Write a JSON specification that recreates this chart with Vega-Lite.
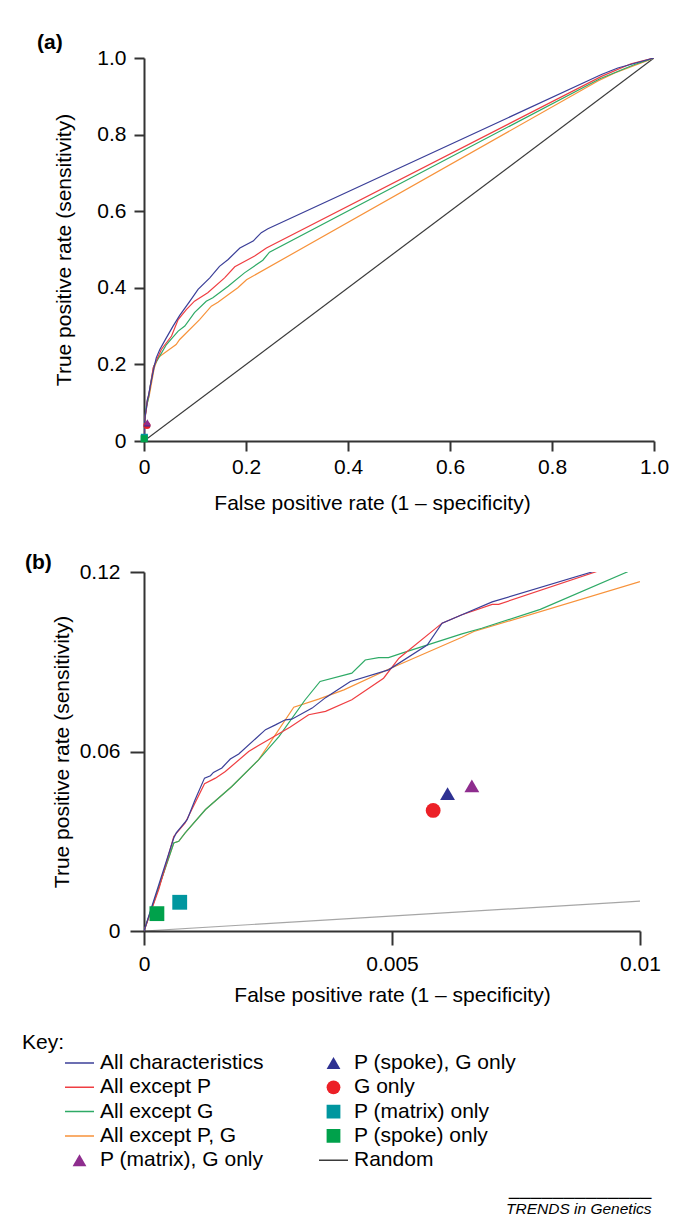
{
  "$schema": "https://vega.github.io/schema/vega-lite/v6.json",
  "autosize": {"type": "pad"},
  "padding": {"left": 22, "top": 32, "right": 5, "bottom": 5},
  "background": "white",
  "bounds": "flush",
  "spacing": 131,
  "title": {
    "text": ["─────────────", "TRENDS in Genetics"],
    "orient": "bottom", "anchor": "end", "font": "Liberation Sans", "fontSize": 15.5,
    "fontStyle": "italic", "fontWeight": "normal", "color": "#000000", "lineHeight": 11, "offset": 20, "dx": -17
  },
  "datasets": {
    "curves": [
      {"series": "Random", "x": 0, "y": 0}, {"series": "Random", "x": 1, "y": 1},
      {"series": "All except P, G", "x": 0, "y": 0},
      {"series": "All except P, G", "x": 0.0006, "y": 0.0294},
      {"series": "All except P, G", "x": 0.0007, "y": 0.030},
      {"series": "All except P, G", "x": 0.00083, "y": 0.0328},
      {"series": "All except P, G", "x": 0.00124, "y": 0.0406},
      {"series": "All except P, G", "x": 0.00177, "y": 0.0483},
      {"series": "All except P, G", "x": 0.00231, "y": 0.0572},
      {"series": "All except P, G", "x": 0.00302, "y": 0.0748},
      {"series": "All except P, G", "x": 0.00352, "y": 0.0775},
      {"series": "All except P, G", "x": 0.00403, "y": 0.0806},
      {"series": "All except P, G", "x": 0.00493, "y": 0.0875},
      {"series": "All except P, G", "x": 0.00641, "y": 0.0982},
      {"series": "All except P, G", "x": 0.00665, "y": 0.1001},
      {"series": "All except P, G", "x": 0.01, "y": 0.1168},
      {"series": "All except P, G", "x": 0.014, "y": 0.145},
      {"series": "All except P, G", "x": 0.02, "y": 0.19},
      {"series": "All except P, G", "x": 0.027, "y": 0.217},
      {"series": "All except P, G", "x": 0.063, "y": 0.252},
      {"series": "All except P, G", "x": 0.07, "y": 0.265},
      {"series": "All except P, G", "x": 0.109, "y": 0.317},
      {"series": "All except P, G", "x": 0.132, "y": 0.352},
      {"series": "All except P, G", "x": 0.145, "y": 0.362},
      {"series": "All except P, G", "x": 0.165, "y": 0.382},
      {"series": "All except P, G", "x": 0.184, "y": 0.40},
      {"series": "All except P, G", "x": 0.201, "y": 0.421},
      {"series": "All except P, G", "x": 0.89, "y": 0.94},
      {"series": "All except P, G", "x": 0.923, "y": 0.961},
      {"series": "All except P, G", "x": 1, "y": 1},
      {"series": "All except G", "x": 0, "y": 0},
      {"series": "All except G", "x": 0.0006, "y": 0.0294},
      {"series": "All except G", "x": 0.0007, "y": 0.030},
      {"series": "All except G", "x": 0.00083, "y": 0.0328},
      {"series": "All except G", "x": 0.00124, "y": 0.0406},
      {"series": "All except G", "x": 0.00177, "y": 0.0483},
      {"series": "All except G", "x": 0.00231, "y": 0.0572},
      {"series": "All except G", "x": 0.00272, "y": 0.065},
      {"series": "All except G", "x": 0.00325, "y": 0.0773},
      {"series": "All except G", "x": 0.00355, "y": 0.0834},
      {"series": "All except G", "x": 0.00419, "y": 0.0862},
      {"series": "All except G", "x": 0.00446, "y": 0.0906},
      {"series": "All except G", "x": 0.00473, "y": 0.0914},
      {"series": "All except G", "x": 0.00493, "y": 0.0914},
      {"series": "All except G", "x": 0.0052, "y": 0.0929},
      {"series": "All except G", "x": 0.00641, "y": 0.0993},
      {"series": "All except G", "x": 0.00681, "y": 0.1012},
      {"series": "All except G", "x": 0.00799, "y": 0.1075},
      {"series": "All except G", "x": 0.00974, "y": 0.12},
      {"series": "All except G", "x": 0.013, "y": 0.15},
      {"series": "All except G", "x": 0.019, "y": 0.195},
      {"series": "All except G", "x": 0.027, "y": 0.213},
      {"series": "All except G", "x": 0.044, "y": 0.252},
      {"series": "All except G", "x": 0.067, "y": 0.287},
      {"series": "All except G", "x": 0.08, "y": 0.30},
      {"series": "All except G", "x": 0.099, "y": 0.335},
      {"series": "All except G", "x": 0.122, "y": 0.365},
      {"series": "All except G", "x": 0.135, "y": 0.374},
      {"series": "All except G", "x": 0.165, "y": 0.404},
      {"series": "All except G", "x": 0.197, "y": 0.439},
      {"series": "All except G", "x": 0.233, "y": 0.472},
      {"series": "All except G", "x": 0.246, "y": 0.493},
      {"series": "All except G", "x": 0.894, "y": 0.946},
      {"series": "All except G", "x": 0.962, "y": 0.983},
      {"series": "All except G", "x": 1, "y": 1},
      {"series": "All except P", "x": 0, "y": 0},
      {"series": "All except P", "x": 0.0003, "y": 0.014},
      {"series": "All except P", "x": 0.0006, "y": 0.0316},
      {"series": "All except P", "x": 0.00083, "y": 0.0361},
      {"series": "All except P", "x": 0.00122, "y": 0.0492},
      {"series": "All except P", "x": 0.00144, "y": 0.0511},
      {"series": "All except P", "x": 0.00164, "y": 0.0533},
      {"series": "All except P", "x": 0.00211, "y": 0.060},
      {"series": "All except P", "x": 0.0023, "y": 0.0619},
      {"series": "All except P", "x": 0.00251, "y": 0.0639},
      {"series": "All except P", "x": 0.00295, "y": 0.0682},
      {"series": "All except P", "x": 0.00332, "y": 0.0723},
      {"series": "All except P", "x": 0.00366, "y": 0.0734},
      {"series": "All except P", "x": 0.00419, "y": 0.0773},
      {"series": "All except P", "x": 0.00483, "y": 0.0845},
      {"series": "All except P", "x": 0.00514, "y": 0.0912},
      {"series": "All except P", "x": 0.00601, "y": 0.1029},
      {"series": "All except P", "x": 0.00641, "y": 0.1057},
      {"series": "All except P", "x": 0.00702, "y": 0.1092},
      {"series": "All except P", "x": 0.00715, "y": 0.1092},
      {"series": "All except P", "x": 0.0091, "y": 0.12},
      {"series": "All except P", "x": 0.012, "y": 0.14},
      {"series": "All except P", "x": 0.018, "y": 0.191},
      {"series": "All except P", "x": 0.034, "y": 0.239},
      {"series": "All except P", "x": 0.054, "y": 0.274},
      {"series": "All except P", "x": 0.067, "y": 0.317},
      {"series": "All except P", "x": 0.083, "y": 0.343},
      {"series": "All except P", "x": 0.099, "y": 0.365},
      {"series": "All except P", "x": 0.125, "y": 0.387},
      {"series": "All except P", "x": 0.158, "y": 0.426},
      {"series": "All except P", "x": 0.178, "y": 0.455},
      {"series": "All except P", "x": 0.217, "y": 0.483},
      {"series": "All except P", "x": 0.24, "y": 0.504},
      {"series": "All except P", "x": 0.897, "y": 0.952},
      {"series": "All except P", "x": 0.955, "y": 0.985},
      {"series": "All except P", "x": 1, "y": 1},
      {"series": "All characteristics", "x": 0, "y": 0},
      {"series": "All characteristics", "x": 0.0006, "y": 0.0311},
      {"series": "All characteristics", "x": 0.00065, "y": 0.0328},
      {"series": "All characteristics", "x": 0.00087, "y": 0.0372},
      {"series": "All characteristics", "x": 0.00103, "y": 0.0439},
      {"series": "All characteristics", "x": 0.00122, "y": 0.0511},
      {"series": "All characteristics", "x": 0.00134, "y": 0.0519},
      {"series": "All characteristics", "x": 0.0014, "y": 0.053},
      {"series": "All characteristics", "x": 0.00157, "y": 0.0545},
      {"series": "All characteristics", "x": 0.00174, "y": 0.0575},
      {"series": "All characteristics", "x": 0.00191, "y": 0.0592},
      {"series": "All characteristics", "x": 0.00245, "y": 0.0673},
      {"series": "All characteristics", "x": 0.00265, "y": 0.0689},
      {"series": "All characteristics", "x": 0.00285, "y": 0.0706},
      {"series": "All characteristics", "x": 0.00298, "y": 0.0708},
      {"series": "All characteristics", "x": 0.00339, "y": 0.0745},
      {"series": "All characteristics", "x": 0.00366, "y": 0.078},
      {"series": "All characteristics", "x": 0.00416, "y": 0.0834},
      {"series": "All characteristics", "x": 0.00493, "y": 0.0873},
      {"series": "All characteristics", "x": 0.00571, "y": 0.0956},
      {"series": "All characteristics", "x": 0.00601, "y": 0.1029},
      {"series": "All characteristics", "x": 0.00641, "y": 0.1057},
      {"series": "All characteristics", "x": 0.00702, "y": 0.110},
      {"series": "All characteristics", "x": 0.00903, "y": 0.12},
      {"series": "All characteristics", "x": 0.012, "y": 0.142},
      {"series": "All characteristics", "x": 0.016, "y": 0.168},
      {"series": "All characteristics", "x": 0.021, "y": 0.2},
      {"series": "All characteristics", "x": 0.024, "y": 0.217},
      {"series": "All characteristics", "x": 0.031, "y": 0.239},
      {"series": "All characteristics", "x": 0.044, "y": 0.27},
      {"series": "All characteristics", "x": 0.057, "y": 0.30},
      {"series": "All characteristics", "x": 0.07, "y": 0.328},
      {"series": "All characteristics", "x": 0.09, "y": 0.365},
      {"series": "All characteristics", "x": 0.106, "y": 0.396},
      {"series": "All characteristics", "x": 0.129, "y": 0.426},
      {"series": "All characteristics", "x": 0.148, "y": 0.456},
      {"series": "All characteristics", "x": 0.165, "y": 0.474},
      {"series": "All characteristics", "x": 0.188, "y": 0.504},
      {"series": "All characteristics", "x": 0.214, "y": 0.522},
      {"series": "All characteristics", "x": 0.23, "y": 0.544},
      {"series": "All characteristics", "x": 0.243, "y": 0.554},
      {"series": "All characteristics", "x": 0.897, "y": 0.957},
      {"series": "All characteristics", "x": 0.929, "y": 0.974},
      {"series": "All characteristics", "x": 1, "y": 1}
    ],
    "markers": [
      {"series": "P (matrix) only", "x": 0.00072, "y": 0.0096},
      {"series": "P (spoke) only", "x": 0.00026, "y": 0.0058},
      {"series": "G only", "x": 0.00583, "y": 0.0403},
      {"series": "P (spoke), G only", "x": 0.00612, "y": 0.0459},
      {"series": "P (matrix), G only", "x": 0.00661, "y": 0.0485}
    ]
  },
  "vconcat": [
    {
      "width": 510,
      "height": 383,
      "title": {"text": "(a)", "anchor": "start", "frame": "group", "dx": -107, "offset": -17, "baseline": "middle", "fontSize": 21, "fontWeight": "bold", "font": "Liberation Sans", "color": "#000000"},
      "layer": [
        {
          "data": {"name": "curves"},
          "mark": {"type": "line", "strokeWidth": 1.2, "clip": true},
          "encoding": {
            "x": {"field": "x", "type": "quantitative", "scale": {"domain": [0, 1], "nice": false, "zero": false},
                  "axis": {"values": [0, 0.2, 0.4, 0.6, 0.8, 1], "labelExpr": "datum.value == 0 ? '0' : format(datum.value, '.1f')", "title": "False positive rate (1 – specificity)", "labelPadding": 5, "titlePadding": 15, "titleX": 228}},
            "y": {"field": "y", "type": "quantitative", "scale": {"domain": [0, 1], "nice": false, "zero": false},
                  "axis": {"values": [0, 0.2, 0.4, 0.6, 0.8, 1], "labelExpr": "datum.value == 0 ? '0' : format(datum.value, '.1f')", "title": "True positive rate (sensitivity)", "titlePadding": 22}},
            "color": {"field": "series", "type": "nominal",
              "scale": {"domain": ["All characteristics", "All except P", "All except G", "All except P, G", "P (matrix), G only", "P (spoke), G only", "G only", "P (matrix) only", "P (spoke) only", "Random"],
                        "range": ["#3b3f98", "#ef3e42", "#2eaa66", "#f7923a", "#8e2d8e", "#2e3192", "#ec2027", "#00969f", "#00a14b", "#3a3a3a"]},
              "legend": {"title": "Key:", "orient": "none", "legendX": -122, "legendY": 974, "columns": 2,
                "encode": {"symbols": {"update": {
                  "size": {"signal": "indexof(['P (spoke), G only','G only','P (matrix) only','P (spoke) only','P (matrix), G only'], datum.value) >= 0 ? 190 : 841"},
                  "strokeWidth": {"signal": "indexof(['P (spoke), G only','G only','P (matrix) only','P (spoke) only','P (matrix), G only'], datum.value) >= 0 ? 0 : 1.5"},
                  "opacity": {"value": 1}}}}}}
          }
        },
        {
          "data": {"name": "markers"},
          "mark": {"type": "point", "filled": true, "opacity": 1, "size": 50, "strokeWidth": 0},
          "encoding": {
            "x": {"field": "x", "type": "quantitative"},
            "y": {"field": "y", "type": "quantitative"},
            "color": {"field": "series", "type": "nominal"},
            "shape": {"field": "series", "type": "nominal",
              "scale": {"domain": ["All characteristics", "All except P", "All except G", "All except P, G", "P (matrix), G only", "P (spoke), G only", "G only", "P (matrix) only", "P (spoke) only", "Random"],
                        "range": ["stroke", "stroke", "stroke", "stroke", "triangle-up", "triangle-up", "circle", "square", "square", "stroke"]}}
          }
        }
      ]
    },
    {
      "width": 496,
      "height": 359,
      "title": {"text": "(b)", "anchor": "start", "frame": "group", "dx": -119, "offset": -23, "baseline": "middle", "fontSize": 21, "fontWeight": "bold", "font": "Liberation Sans", "color": "#000000"},
      "layer": [
        {
          "data": {"name": "curves"},
          "mark": {"type": "line", "strokeWidth": 1.2, "clip": true},
          "encoding": {
            "x": {"field": "x", "type": "quantitative", "scale": {"domain": [0, 0.01], "nice": false, "zero": false},
                  "axis": {"values": [0, 0.005, 0.01], "labelExpr": "datum.value == 0 ? '0' : format(datum.value, '.3~f')", "title": "False positive rate (1 – specificity)", "titlePadding": 10.5, "tickSize": 14}},
            "y": {"field": "y", "type": "quantitative", "scale": {"domain": [0, 0.12], "nice": false, "zero": false},
                  "axis": {"values": [0, 0.06, 0.12], "labelExpr": "datum.value == 0 ? '0' : format(datum.value, '.2f')", "title": "True positive rate (sensitivity)", "titlePadding": 7, "tickSize": 14, "labelPadding": 10}},
            "color": {"field": "series", "type": "nominal"},
            "opacity": {"condition": {"test": "datum.series === 'Random'", "value": 0.45}, "value": 1}
          }
        },
        {
          "data": {"name": "markers"},
          "mark": {"type": "point", "filled": true, "opacity": 1, "size": 220, "strokeWidth": 0, "clip": true},
          "encoding": {
            "x": {"field": "x", "type": "quantitative"},
            "y": {"field": "y", "type": "quantitative"},
            "color": {"field": "series", "type": "nominal"},
            "shape": {"field": "series", "type": "nominal"}
          }
        }
      ]
    }
  ],
  "resolve": {"scale": {"color": "shared", "shape": "shared"}, "legend": {"color": "shared", "shape": "shared"}},
  "config": {
    "view": {"stroke": null},
    "font": "Liberation Sans",
    "axis": {
      "domainColor": "#333333", "domainWidth": 2, "tickColor": "#333333", "tickWidth": 2, "tickSize": 10,
      "grid": false, "labelFont": "Liberation Sans", "labelFontSize": 21, "labelColor": "#000000",
      "labelPadding": 8, "labelFlush": false, "labelOverlap": false, "labelBound": false,
      "titleFont": "Liberation Sans", "titleFontSize": 21, "titleFontWeight": "normal", "titleColor": "#000000"
    },
    "legend": {
      "rowPadding": 3.3, "columnPadding": 54, "clipHeight": 20, "symbolSize": 841, "symbolStrokeWidth": 1.5,
      "symbolOffset": 5, "labelOffset": 10, "labelFont": "Liberation Sans", "labelFontSize": 21, "labelColor": "#000000",
      "labelLimit": 0, "titleFont": "Liberation Sans", "titleFontSize": 21, "titleFontWeight": "normal",
      "titleColor": "#000000", "titleAnchor": "start", "titleAlign": "right", "titlePadding": 0, "padding": 0,
      "gridAlign": "each", "symbolOpacity": 1
    }
  }
}
